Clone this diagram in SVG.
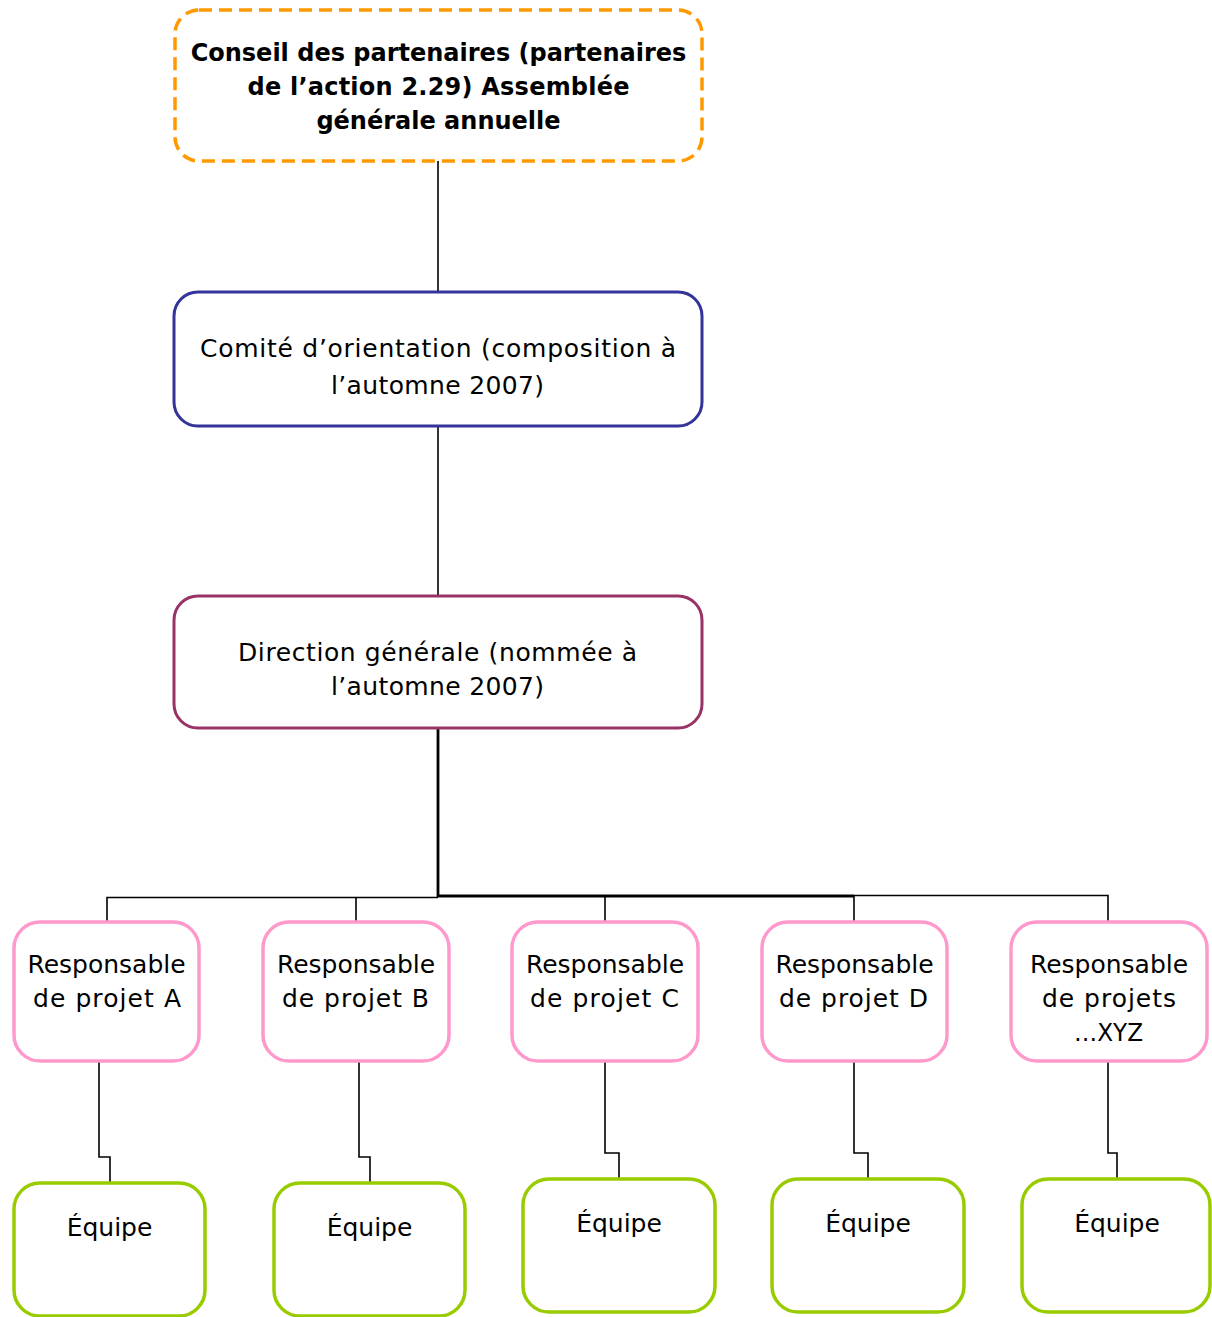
<svg xmlns="http://www.w3.org/2000/svg" width="1212" height="1317" viewBox="0 0 1212 1317">
<style>
text{font-family:"DejaVu Sans","Liberation Sans",sans-serif;font-size:25px;fill:#000;text-anchor:middle}
.b{font-weight:bold;font-size:24px}
.box{fill:#fff;stroke-width:3}
.orange{stroke:#FF9900;stroke-width:3.5;stroke-dasharray:13 7}
.blue{stroke:#333399}
.plum{stroke:#993366}
.pink{stroke:#FF99CC;stroke-width:3.5}
.green{stroke:#99CC00;stroke-width:3.5}
.c{fill:none;stroke:#000;stroke-width:1.6}
.t{fill:none;stroke:#000;stroke-width:2.8}
</style>
<g id="connectors">
<path class="c" d="M438,161V292M438,426V596"/>
<path class="t" d="M438,728V896H854"/>
<path class="c" d="M438,897.5H107V922M356,897.5V922M605,896V922M854,895.5H1108V922M854,896V922"/>
<path class="c" d="M99,1062V1157H110V1183M359,1062V1157H370V1183M605,1062V1153H619V1179M854,1062V1153H868V1179M1108,1062V1153H1117V1179"/>
</g>
<g id="conseil">
<rect class="box orange" x="175" y="10" width="527" height="151" rx="24"/>
<text class="b" x="438.5" y="61">Conseil des partenaires (partenaires</text>
<text class="b" x="438.5" y="95" textLength="382" lengthAdjust="spacing">de l’action 2.29) Assemblée</text>
<text class="b" x="438.5" y="129">générale annuelle</text>
</g>
<g id="comite">
<rect class="box blue" x="174" y="292" width="528" height="134" rx="24"/>
<text x="438" y="357" textLength="476" lengthAdjust="spacing">Comité d’orientation (composition à</text>
<text x="437.5" y="394" textLength="213" lengthAdjust="spacing">l’automne 2007)</text>
</g>
<g id="direction">
<rect class="box plum" x="174" y="596" width="528" height="132" rx="24"/>
<text x="437.5" y="661" textLength="399" lengthAdjust="spacing">Direction générale (nommée à</text>
<text x="437.5" y="695" textLength="213" lengthAdjust="spacing">l’automne 2007)</text>
</g>
<g id="resp-a">
<rect class="box pink" x="14" y="922" width="185" height="139" rx="26"/>
<text x="106.5" y="973">Responsable</text>
<text x="107" y="1007" textLength="148" lengthAdjust="spacing">de projet A</text>
</g>
<g id="resp-b">
<rect class="box pink" x="263" y="922" width="186" height="139" rx="26"/>
<text x="356" y="973">Responsable</text>
<text x="355.5" y="1007" textLength="147" lengthAdjust="spacing">de projet B</text>
</g>
<g id="resp-c">
<rect class="box pink" x="512" y="922" width="186" height="139" rx="26"/>
<text x="605" y="973">Responsable</text>
<text x="604.5" y="1007" textLength="149" lengthAdjust="spacing">de projet C</text>
</g>
<g id="resp-d">
<rect class="box pink" x="762" y="922" width="185" height="139" rx="26"/>
<text x="854.5" y="973">Responsable</text>
<text x="853.5" y="1007" textLength="149" lengthAdjust="spacing">de projet D</text>
</g>
<g id="resp-xyz">
<rect class="box pink" x="1011" y="922" width="196" height="139" rx="26"/>
<text x="1109" y="973">Responsable</text>
<text x="1109" y="1007" textLength="134" lengthAdjust="spacing">de projets</text>
<text x="1108.5" y="1041" textLength="69" lengthAdjust="spacingAndGlyphs">…XYZ</text>
</g>
<g id="equipe-a">
<rect class="box green" x="14" y="1183" width="191" height="133" rx="26"/>
<text x="109.5" y="1236">Équipe</text>
</g>
<g id="equipe-b">
<rect class="box green" x="274" y="1183" width="191" height="133" rx="26"/>
<text x="369.5" y="1236">Équipe</text>
</g>
<g id="equipe-c">
<rect class="box green" x="523" y="1179" width="192" height="133" rx="26"/>
<text x="619" y="1232">Équipe</text>
</g>
<g id="equipe-d">
<rect class="box green" x="772" y="1179" width="192" height="133" rx="26"/>
<text x="868" y="1232">Équipe</text>
</g>
<g id="equipe-e">
<rect class="box green" x="1022" y="1179" width="188" height="133" rx="26"/>
<text x="1117" y="1232">Équipe</text>
</g>
</svg>
